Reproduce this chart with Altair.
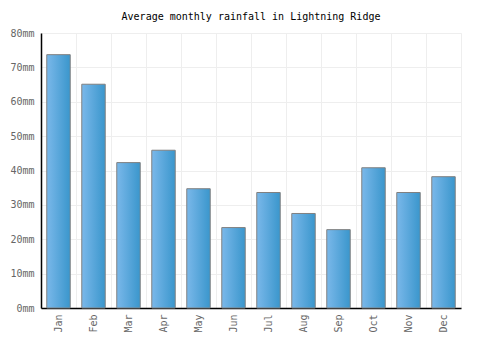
import altair as alt
import pandas as pd

months = ["Jan", "Feb", "Mar", "Apr", "May", "Jun", "Jul", "Aug", "Sep", "Oct", "Nov", "Dec"]
rainfall = [73.7, 65.1, 42.3, 45.9, 34.7, 23.4, 33.6, 27.5, 22.8, 40.8, 33.6, 38.2]
y_ticks = [0, 10, 20, 30, 40, 50, 60, 70, 80]

df = pd.DataFrame({"month": months, "rain": rainfall})

font = "DejaVu Sans Mono"

gradient = alt.LinearGradient(
    gradient="linear",
    stops=[alt.GradientStop(color="#7ab8ea", offset=0),
           alt.GradientStop(color="#3a96cc", offset=1)],
    x1=0, x2=1, y1=0, y2=0,
)

chart = alt.Chart(df).mark_bar(
    color=gradient, stroke="#808080", strokeWidth=1,
    width=alt.RelativeBandSize(0.67),
).encode(
    x=alt.X("month:N", sort=months, title=None,
            scale=alt.Scale(paddingInner=0, paddingOuter=0),
            axis=alt.Axis(labelAngle=270, bandPosition=0, grid=True, gridColor="#eeeeee",
                          domainColor="#000000", domainWidth=1.5, ticks=False,
                          labelFont=font, labelFontSize=10, labelColor="#666666",
                          labelPadding=6, labelAlign="right", labelBaseline="middle")),
    y=alt.Y("rain:Q", title=None,
            scale=alt.Scale(domain=[0, 80], nice=False),
            axis=alt.Axis(values=y_ticks, labelExpr="datum.value + 'mm'",
                          grid=True, gridColor="#eeeeee", domainColor="#000000",
                          domainWidth=1.5, ticks=False, labelFont=font, labelFontSize=10,
                          labelColor="#666666", labelPadding=7)),
).properties(
    width=420, height=275,
    title=alt.TitleParams("Average monthly rainfall in Lightning Ridge", font=font,
                          fontSize=10, fontWeight="normal", color="#000000", offset=6),
    autosize=alt.AutoSizeParams(type="none"),
    padding={"left": 41, "top": 33, "right": 39, "bottom": 42},
).configure_view(stroke="#eeeeee")

chart.save("out.html", embed_options={"renderer": "svg", "actions": False})
